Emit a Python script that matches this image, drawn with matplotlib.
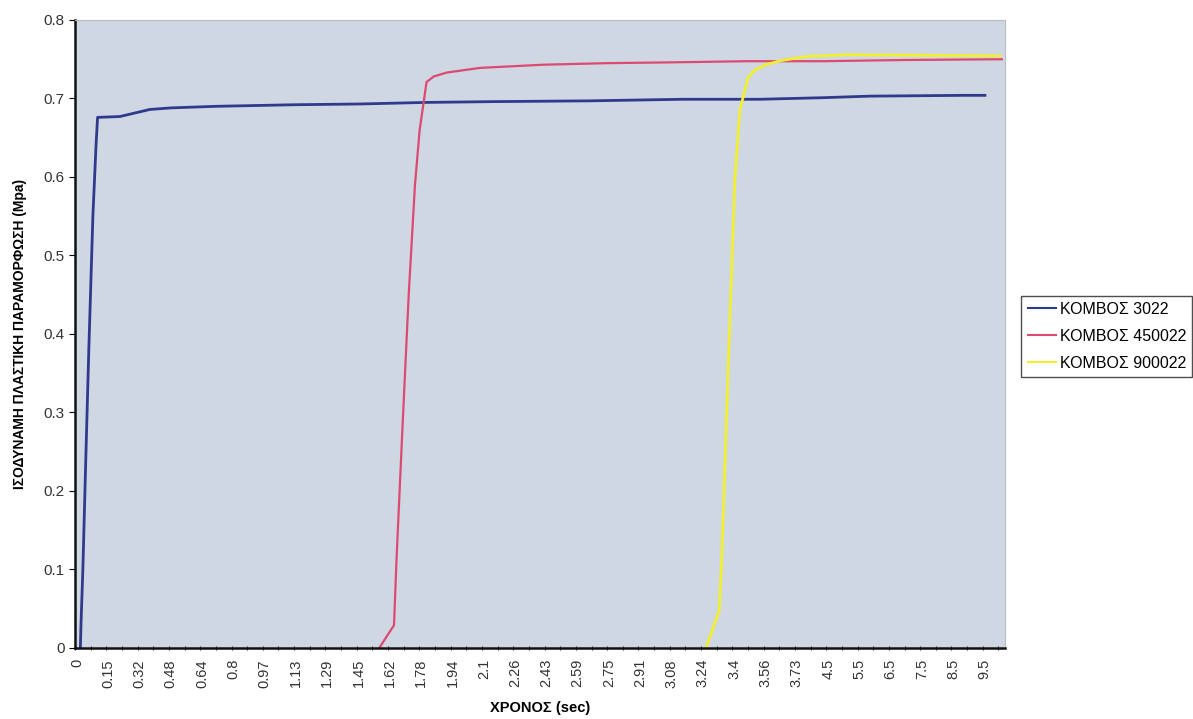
import numpy as np
import matplotlib
matplotlib.use("Agg")
import matplotlib.pyplot as plt

plt.rcParams["font.family"] = ["Liberation Sans", "DejaVu Sans"]

# category-axis labels (time in sec), one every category step
time_labels = ["0", "0.15", "0.32", "0.48", "0.64", "0.8", "0.97", "1.13", "1.29", "1.45",
               "1.62", "1.78", "1.94", "2.1", "2.26", "2.43", "2.59", "2.75", "2.91", "3.08",
               "3.24", "3.4", "3.56", "3.73", "4.5", "5.5", "6.5", "7.5", "8.5", "9.5"]

# series, x in label-position units
node_3022_x = [0.11, 0.13, 0.19, 0.29, 0.38, 0.51, 0.61, 0.66, 0.70, 1.37, 2.33, 3.0, 4.41,
               6.9, 9.04, 11.18, 13.29, 16.39, 19.36, 21.82, 23.83, 25.34, 28.31, 29.01]
node_3022_y = [0.0, 0.03, 0.10, 0.25, 0.38, 0.55, 0.64, 0.676, 0.676, 0.677, 0.686, 0.688, 0.690,
               0.692, 0.693, 0.695, 0.696, 0.697, 0.699, 0.699, 0.701, 0.703, 0.704, 0.704]

node_450022_x = [9.66, 10.13, 10.21, 10.40, 10.60, 10.80, 10.95, 11.17, 11.4, 11.81, 12.88, 14.89,
                 16.93, 18.95, 21.41, 23.83, 26.39, 29.55]
node_450022_y = [0.0, 0.029, 0.112, 0.28, 0.45, 0.59, 0.66, 0.721, 0.728, 0.733, 0.739, 0.743,
                 0.745, 0.746, 0.7475, 0.7475, 0.749, 0.750]

node_900022_x = [20.10, 20.52, 20.60, 20.80, 21.02, 21.18, 21.44, 21.66, 22.0, 22.46, 23.31,
                 24.59, 29.49]
node_900022_y = [0.0, 0.048, 0.112, 0.35, 0.596, 0.685, 0.727, 0.736, 0.743, 0.748, 0.7535,
                 0.7556, 0.7543]

series_names = ["ΚΟΜΒΟΣ 3022", "ΚΟΜΒΟΣ 450022", "ΚΟΜΒΟΣ 900022"]
series_colors = ["#2E3A8C", "#DC4A72", "#F2EE30"]

fig = plt.figure(figsize=(11.93, 7.19), dpi=100)
ax = fig.add_axes([0.0629, 0.0988, 0.7795, 0.8734])
ax.set_facecolor("#CFD7E3")

ax.plot(node_3022_x, node_3022_y, color=series_colors[0], lw=2, label=series_names[0])
ax.plot(node_450022_x, node_450022_y, color=series_colors[1], lw=1.6, label=series_names[1])
ax.plot(node_900022_x, node_900022_y, color=series_colors[2], lw=2, label=series_names[2])

ax.set_xlim(-0.06, 29.65)
ax.set_ylim(0, 0.8)

ax.set_xticks(np.arange(len(time_labels)))
ax.set_xticklabels(time_labels, rotation=90, fontsize=10.5, color="#333333")
ax.tick_params(axis="x", which="major", length=0, pad=8)
ax.set_xticks(np.arange(len(time_labels) * 2) * 0.5 - 0.06, minor=True)
ax.tick_params(axis="x", which="minor", length=3, width=0.8, direction="inout", color="#333333")

ax.set_yticks(np.arange(0, 0.81, 0.1))
ax.set_yticklabels(["0", "0.1", "0.2", "0.3", "0.4", "0.5", "0.6", "0.7", "0.8"])
ax.tick_params(axis="y", length=4, width=0.8, labelsize=11, labelcolor="#333333")

for side in ["left", "bottom"]:
    ax.spines[side].set_linewidth(1.8)
    ax.spines[side].set_color("#111111")
for side in ["top", "right"]:
    ax.spines[side].set_color("#B8BEC6")
    ax.spines[side].set_linewidth(0.8)

ax.set_xlabel("ΧΡΟΝΟΣ (sec)", fontsize=10.5, fontweight="bold", labelpad=10)
ax.set_ylabel("ΙΣΟΔΥΝΑΜΗ ΠΛΑΣΤΙΚΗ ΠΑΡΑΜΟΡΦΩΣΗ (Mpa)", fontsize=10, fontweight="bold",
              family=["Liberation Sans Narrow", "Liberation Sans", "DejaVu Sans"], labelpad=12)

leg = fig.legend(loc="upper left", bbox_to_anchor=(0.856, 0.589), fontsize=11.5,
                 frameon=True, fancybox=False, edgecolor="#222222", handlelength=1.8,
                 handletextpad=0.2, borderpad=0.4, labelspacing=0.75, borderaxespad=0)
leg.get_frame().set_linewidth(1)
for line in leg.get_lines():
    line.set_linewidth(1.5)

fig.savefig("out.png", dpi=100)
